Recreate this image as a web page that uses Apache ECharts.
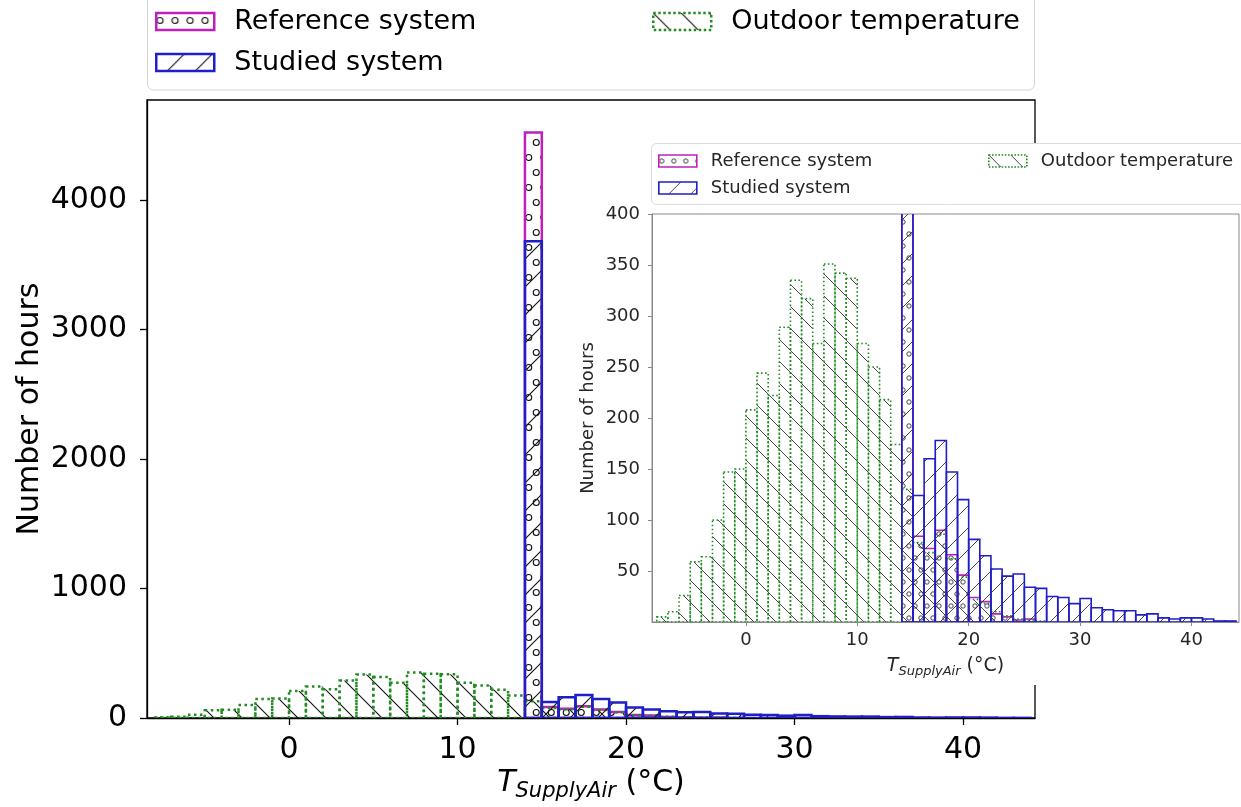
<!DOCTYPE html>
<html>
<head>
<meta charset="utf-8">
<script src="https://cdn.jsdelivr.net/npm/echarts@6/dist/echarts.min.js"></script>
<style>
  html, body { margin: 0; padding: 0; background: #fff; }
  #chart { width: 1241px; height: 807px; }
</style>
</head>
<body>
<div id="chart"></div>
<script>
// Histogram bins: left edge of each 1 °C bin
const binLeft = [-8, -7, -6, -5, -4, -3, -2, -1, 0, 1, 2, 3, 4, 5, 6, 7, 8, 9, 10, 11, 12, 13,
                 14, 15, 16, 17, 18, 19, 20, 21, 22, 23, 24, 25, 26, 27, 28, 29, 30, 31, 32, 33,
                 34, 35, 36, 37, 38, 39, 40, 41, 42, 43];
const binWidth = 1;

// Hours per bin
const outdoorHours = [5, 10, 26, 59, 64, 100, 147, 150, 208, 244, 222, 289, 335, 317, 273, 351, 342, 337, 273, 250, 218, 174,
                      130, 78, 68, 86, 62, 44, 22, 18, 10, 6, 3, 2, 1, 0, 0, 0, 0, 0, 0, 0, 0, 0,
                      0, 0, 0, 0, 0, 0, 0, 0];
const referenceHours = [0, 0, 0, 0, 0, 0, 0, 0, 0, 0, 0, 0, 0, 0, 0, 0, 0, 0, 0, 0, 0, 0,
                        4520, 84, 72, 90, 66, 46, 24, 20, 8, 5, 2, 3, 0, 0, 0, 0, 0, 0, 0, 0, 0, 0,
                        0, 0, 0, 0, 0, 0, 0, 0];
const studiedHours = [0, 0, 0, 0, 0, 0, 0, 0, 0, 0, 0, 0, 0, 0, 0, 0, 0, 0, 0, 0, 0, 0,
                      3680, 124, 160, 178, 147, 120, 81, 65, 52, 45, 47, 34, 33, 25, 24, 18, 23, 14, 12, 11,
                      11, 7, 8, 4, 3, 4, 4, 3, 1, 1];

// Tick labels
const xTicks = [0, 10, 20, 30, 40];
const mainYTicks = [0, 1000, 2000, 3000, 4000];
const insetYTicks = [50, 100, 150, 200, 250, 300, 350, 400];

const FONT = 'DejaVu Sans';
const REF_COLOR = '#bf1fbf';
const STUDIED_COLOR = '#1f1fc4';
const OUTDOOR_COLOR = '#238b23';

// Hatch tiles (line hatches and small circles)
function linePattern(dir, step, color, lw) {
  const c = document.createElement('canvas');
  c.width = c.height = step;
  const g = c.getContext('2d');
  g.strokeStyle = color;
  g.lineWidth = lw;
  g.beginPath();
  if (dir === '/') {
    for (const k of [0, step, 2 * step]) { g.moveTo(k + step, -step); g.lineTo(-step, k + step); }
  } else {
    for (const k of [-step, 0, step]) { g.moveTo(-step, -step + k); g.lineTo(2 * step, 2 * step + k); }
  }
  g.stroke();
  return { image: c, repeat: 'repeat' };
}
function circlePattern(pitch, r, color, lw) {
  const c = document.createElement('canvas');
  c.width = pitch; c.height = 2 * pitch;
  const g = c.getContext('2d');
  g.strokeStyle = color;
  g.lineWidth = lw;
  g.beginPath(); g.arc(pitch / 4, pitch / 2, r, 0, Math.PI * 2); g.stroke();
  g.beginPath(); g.arc(3 * pitch / 4, 3 * pitch / 2, r, 0, Math.PI * 2); g.stroke();
  return { image: c, repeat: 'repeat' };
}

const looks = {
  main: {
    ref: { fill: circlePattern(15, 3, '#111', 1.1), stroke: REF_COLOR, lw: 2.5, dash: null },
    studied: { fill: linePattern('/', 28, '#111', 1.1), stroke: STUDIED_COLOR, lw: 2.5, dash: null },
    outdoor: { fill: linePattern('\\', 28, '#111', 1.1), stroke: OUTDOOR_COLOR, lw: 2.5, dash: [2.5, 3.5] }
  },
  inset: {
    ref: { fill: circlePattern(12, 2.2, '#333', 0.9), stroke: REF_COLOR, lw: 1.6, dash: null },
    studied: { fill: linePattern('/', 22, '#333', 0.9), stroke: STUDIED_COLOR, lw: 1.6, dash: null },
    outdoor: { fill: linePattern('\\', 22, '#333', 0.9), stroke: OUTDOOR_COLOR, lw: 1.6, dash: [1.6, 2.4] }
  }
};

function histSeries(name, hours, axisIdx, look, z) {
  return {
    type: 'custom',
    name: name,
    xAxisIndex: axisIdx,
    yAxisIndex: axisIdx,
    clip: true,
    z: z,
    silent: true,
    data: binLeft.map((b, i) => [b, hours[i]]),
    renderItem: function (params, api) {
      const v = api.value(1);
      if (!v) return null;
      const x0 = api.value(0);
      const p0 = api.coord([x0, 0]);
      const p1 = api.coord([x0 + binWidth, v]);
      return {
        type: 'rect',
        shape: { x: p0[0], y: p1[1], width: p1[0] - p0[0], height: p0[1] - p1[1] },
        style: { fill: look.fill, stroke: look.stroke, lineWidth: look.lw, lineDash: look.dash }
      };
    }
  };
}

function legendItem(name, look) {
  return {
    name: name,
    icon: 'rect',
    itemStyle: {
      color: look.fill,
      borderColor: look.stroke,
      borderWidth: look.lw,
      borderType: look.dash ? 'dotted' : 'solid'
    }
  };
}

function axisTitle(sizeT, sizeSub, subDrop, color) {
  return {
    formatter: '{t|T}{s|SupplyAir}{u| (°C)}',
    rich: {
      t: { fontFamily: FONT, fontStyle: 'italic', fontSize: sizeT, color: color },
      s: { fontFamily: FONT, fontStyle: 'italic', fontSize: sizeSub, color: color, padding: [subDrop, 0, 0, 0] },
      u: { fontFamily: FONT, fontSize: sizeT, color: color }
    }
  };
}

const plain = v => String(v);
const X_MIN = -8.43, X_MAX = 44.27;
const mainTitle = axisTitle(30, 21, 16, '#000');
const insetTitle = axisTitle(19, 13, 10, '#262626');

const chart = echarts.init(document.getElementById('chart'));
chart.setOption({
  animation: false,
  backgroundColor: '#fff',
  grid: [
    { left: 147, top: 100, width: 888, height: 618, outerBoundsMode: 'none', containLabel: false,
      show: true, borderColor: '#000', borderWidth: 1.3, backgroundColor: 'transparent', z: 0 },
    { left: 652, top: 214, width: 587, height: 408, outerBoundsMode: 'none', containLabel: false,
      show: true, borderColor: '#8a8a8a', borderWidth: 1, backgroundColor: '#fff', z: 21 }
  ],
  xAxis: [
    {
      gridIndex: 0, type: 'value', min: X_MIN, max: X_MAX, z: 1,
      axisLine: { show: true, onZero: false, lineStyle: { color: '#000', width: 1.3 } },
      axisTick: { show: true, customValues: xTicks, length: 7, lineStyle: { color: '#000', width: 1.3 } },
      axisLabel: { customValues: xTicks, formatter: plain, fontFamily: FONT, fontSize: 30, color: '#000', margin: 17 },
      splitLine: { show: false },
      name: mainTitle.formatter, nameLocation: 'middle', nameGap: 47, nameMoveOverlap: false,
      nameTextStyle: { rich: mainTitle.rich }
    },
    {
      gridIndex: 1, type: 'value', min: X_MIN, max: X_MAX, z: 22,
      axisLine: { show: true, onZero: false, lineStyle: { color: '#8a8a8a', width: 1 } },
      axisTick: { show: true, customValues: xTicks, length: 4, lineStyle: { color: '#8a8a8a', width: 1 } },
      axisLabel: { customValues: xTicks, formatter: plain, fontFamily: FONT, fontSize: 18, color: '#262626', margin: 9 },
      splitLine: { show: false },
      name: insetTitle.formatter, nameLocation: 'middle', nameGap: 33, nameMoveOverlap: false,
      nameTextStyle: { rich: insetTitle.rich }
    }
  ],
  yAxis: [
    {
      gridIndex: 0, type: 'value', min: 0, max: 4770, z: 1,
      axisLine: { show: true, onZero: false, lineStyle: { color: '#000', width: 1.3 } },
      axisTick: { show: true, customValues: mainYTicks, length: 7, lineStyle: { color: '#000', width: 1.3 } },
      axisLabel: { customValues: mainYTicks, formatter: plain, fontFamily: FONT, fontSize: 30, color: '#000', margin: 20 },
      splitLine: { show: false },
      name: 'Number of hours', nameLocation: 'middle', nameGap: 102, nameMoveOverlap: false,
      nameTextStyle: { fontFamily: FONT, fontSize: 30, color: '#000' }
    },
    {
      gridIndex: 1, type: 'value', min: 0, max: 400, z: 22,
      axisLine: { show: true, onZero: false, lineStyle: { color: '#8a8a8a', width: 1 } },
      axisTick: { show: true, customValues: insetYTicks, length: 4, lineStyle: { color: '#8a8a8a', width: 1 } },
      axisLabel: { customValues: insetYTicks, formatter: plain, fontFamily: FONT, fontSize: 18, color: '#262626', margin: 12 },
      splitLine: { show: false },
      name: 'Number of hours', nameLocation: 'middle', nameGap: 55, nameMoveOverlap: false,
      nameTextStyle: { fontFamily: FONT, fontSize: 18, color: '#262626' }
    }
  ],
  legend: [
    {
      data: [legendItem('Reference system', looks.main.ref), legendItem('Studied system', looks.main.studied)],
      orient: 'vertical', left: 155, top: 8, itemWidth: 58, itemHeight: 17, itemGap: 14, padding: 0,
      selectedMode: false, z: 30,
      textStyle: { fontFamily: FONT, fontSize: 27, color: '#000', padding: [0, 0, 0, 15] }
    },
    {
      data: [legendItem('Outdoor temperature', looks.main.outdoor)],
      orient: 'vertical', left: 652, top: 8, itemWidth: 58, itemHeight: 17, padding: 0,
      selectedMode: false, z: 30,
      textStyle: { fontFamily: FONT, fontSize: 27, color: '#000', padding: [0, 0, 0, 15] }
    },
    {
      data: [legendItem('Reference system', looks.inset.ref), legendItem('Studied system', looks.inset.studied)],
      orient: 'vertical', left: 658, top: 152, itemWidth: 38, itemHeight: 12, itemGap: 9, padding: 0,
      selectedMode: false, z: 30,
      textStyle: { fontFamily: FONT, fontSize: 18, color: '#262626', padding: [0, 0, 0, 9] }
    },
    {
      data: [legendItem('Outdoor temperature', looks.inset.outdoor)],
      orient: 'vertical', left: 988, top: 152, itemWidth: 38, itemHeight: 12, padding: 0,
      selectedMode: false, z: 30,
      textStyle: { fontFamily: FONT, fontSize: 18, color: '#262626', padding: [0, 0, 0, 9] }
    }
  ],
  graphic: [
    // backdrop behind the inset axes
    { type: 'rect', silent: true, z: 20, shape: { x: 560, y: 143, width: 700, height: 542 }, style: { fill: '#fff' } },
    // legend frames
    { type: 'rect', silent: true, z: 28, shape: { x: 147.5, y: -8, width: 887, height: 98, r: 6 },
      style: { fill: 'rgba(255,255,255,0.85)', stroke: '#d4d4d4', lineWidth: 1 } },
    { type: 'rect', silent: true, z: 28, shape: { x: 651.5, y: 143.5, width: 620, height: 61, r: 5 },
      style: { fill: 'rgba(255,255,255,0.9)', stroke: '#dcdcdc', lineWidth: 1 } }
  ],
  series: [
    histSeries('Reference system', referenceHours, 0, looks.main.ref, 2),
    histSeries('Outdoor temperature', outdoorHours, 0, looks.main.outdoor, 3),
    histSeries('Studied system', studiedHours, 0, looks.main.studied, 4),
    histSeries('Reference system', referenceHours, 1, looks.inset.ref, 23),
    histSeries('Outdoor temperature', outdoorHours, 1, looks.inset.outdoor, 24),
    histSeries('Studied system', studiedHours, 1, looks.inset.studied, 25)
  ]
});
</script>
</body>
</html>
